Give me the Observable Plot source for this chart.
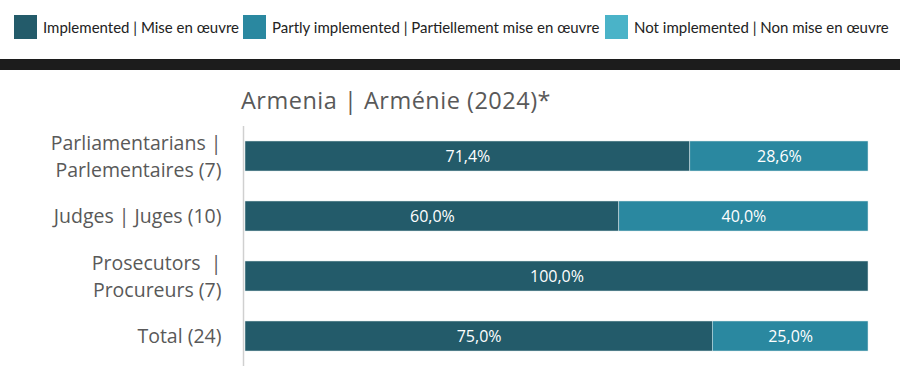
<!DOCTYPE html>
<html><head><meta charset="utf-8">
<script src="https://cdn.jsdelivr.net/npm/d3@7"></script>
<script src="https://cdn.jsdelivr.net/npm/@observablehq/plot@0.6"></script>
<style>
body{margin:0;background:#fff;width:900px;height:380px;overflow:hidden;font-family:Lato,"Open Sans",sans-serif;}
#legend{position:absolute;left:0;top:0;width:900px;height:59px;}
.item{position:absolute;top:15px;display:flex;align-items:center;font-size:15px;color:#222;height:24px;}
.sw{width:23px;height:24px;margin-right:6px;}
#band{position:absolute;left:0;top:59px;width:900px;height:11px;background:#1c1c1c;}
#title{position:absolute;left:241px;top:84px;font-family:"Open Sans",sans-serif;font-size:23.5px;letter-spacing:0.5px;color:#595959;}
#chart{position:absolute;left:0;top:120px;}
</style></head>
<body>
<div id="legend"></div>
<div id="band"></div>
<div id="title">Armenia | Arménie (2024)*</div>
<div id="chart"></div>
<script>
const categories = ["Parliamentarians |\nParlementaires (7)", "Judges | Juges (10)", "Prosecutors  |\nProcureurs (7)", "Total (24)"];
const statuses = ["Implemented | Mise en œuvre", "Partly implemented | Partiellement mise en œuvre", "Not implemented | Non mise en œuvre"];
const colors = ["#235b6a", "#2a88a0", "#4ab3c8"];
const implemented = [71.4, 60.0, 100.0, 75.0];
const partly = [28.6, 40.0, 0, 25.0];
const notImplemented = [0, 0, 0, 0];

const legendX = [14, 243, 605];
const legend = document.getElementById("legend");
statuses.forEach((s, i) => {
  const d = document.createElement("div");
  d.className = "item";
  d.style.left = legendX[i] + "px";
  d.innerHTML = `<div class="sw" style="background:${colors[i]}"></div><span>${s}</span>`;
  legend.appendChild(d);
});

const data = [];
categories.forEach((c, i) => {
  data.push({cat: c, status: statuses[0], value: implemented[i]});
  data.push({cat: c, status: statuses[1], value: partly[i]});
  data.push({cat: c, status: statuses[2], value: notImplemented[i]});
});
const shown = data.filter(d => d.value > 0);
const fmt = v => v.toFixed(1).replace(".", ",") + "%";

const chart = Plot.plot({
  width: 900,
  height: 260,
  marginLeft: 245,
  marginRight: 32,
  marginTop: 6,
  marginBottom: 14,
  style: {fontFamily: "'Open Sans', sans-serif", background: "transparent"},
  x: {domain: [0, 100], axis: null},
  y: {domain: categories, paddingInner: 0.5, paddingOuter: 0.25, label: null},
  color: {domain: statuses, range: colors},
  marks: [
    Plot.axisY({tickSize: 0, tickPadding: 24, fontSize: 19.5, lineHeight: 1.42, fill: "#595959", label: null, dy: -2}),
    Plot.barX(shown, {x: "value", y: "cat", fill: "status", z: "status", order: statuses, stroke: "#dfe9ec", strokeWidth: 0.5}),
    Plot.text(shown, Plot.stackX({x: "value", y: "cat", z: "status", order: statuses, text: d => fmt(d.value), fill: "white", fontSize: 16})),
    Plot.ruleX([0], {stroke: "#d0d0d0", strokeWidth: 1.5, dx: -2})
  ]
});
document.getElementById("chart").appendChild(chart);
</script>
</body></html>
